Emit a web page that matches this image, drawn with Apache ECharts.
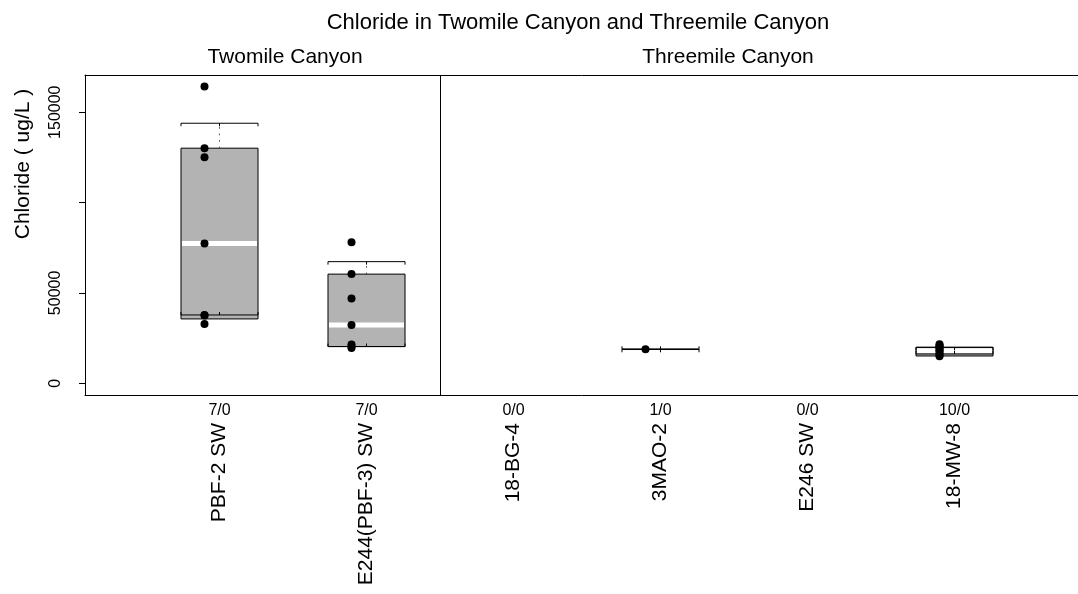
<!DOCTYPE html>
<html><head><meta charset="utf-8">
<script src="https://cdn.jsdelivr.net/npm/echarts@6/dist/echarts.min.js"></script>
<style>html,body{margin:0;padding:0;background:#fff}#c{width:1078px;height:594px}</style>
</head><body><div id="c"></div>
<script>
// ---- data ----
const categories = ['PBF-2 SW', 'E244(PBF-3) SW', '18-BG-4', '3MAO-2', 'E246 SW', '18-MW-8'];
const counts = ['7/0', '7/0', '0/0', '1/0', '0/0', '10/0'];
const whiskerLow  = [37800, 20300, null, 18800, null, 16200];
const boxLow      = [35600, 20300, null, 18800, null, 15100];
const medians     = [77300, 32300, null, 18800, null, 18000];
const boxHigh     = [130100, 60400, null, 18800, null, 19900];
const whiskerHigh = [143900, 67300, null, 18800, null, 19900];
const pointsPBF2  = [164200, 130100, 125100, 77300, 37800, 37500, 32800];
const pointsE244  = [78100, 60400, 46900, 32300, 21500, 20400, 19500];
const points18BG4 = [];
const points3MAO2 = [18800];
const pointsE246  = [];
const points18MW8 = [21600, 20900, 20400, 19800, 19100, 18300, 17600, 16500, 15700, 14900];
const yTicks  = [0, 50000, 100000, 150000];
const yLabels = [0, 50000, 150000];
const panelTitles = ['Twomile Canyon', 'Threemile Canyon'];
const mainTitle = 'Chloride in Twomile Canyon and Threemile Canyon';
const yTitle = 'Chloride ( ug/L )';

// ---- build ----
const FONT = '"Liberation Sans", Arial, Helvetica, sans-serif';
const pointsByCat = [pointsPBF2, pointsE244, points18BG4, points3MAO2, pointsE246, points18MW8];
const boxWidth = 0.524;
const pointOffset = -0.102;
const xMin = -0.915, xMax = 5.84;

const boxData = [];
categories.forEach((c, i) => {
  if (medians[i] !== null) boxData.push([i, whiskerLow[i], boxLow[i], medians[i], boxHigh[i], whiskerHigh[i]]);
});
const scatterData = [];
pointsByCat.forEach((arr, i) => arr.forEach(v => scatterData.push([i + pointOffset, v])));

function renderBox(params, api) {
  const x = api.value(0);
  const wl = api.value(1), q1 = api.value(2), med = api.value(3), q3 = api.value(4), wh = api.value(5);
  const cx = api.coord([x, med])[0];
  const hw = api.size([boxWidth, 0])[0] / 2;
  const y = v => api.coord([x, v])[1];
  const yq1 = y(q1), yq3 = y(q3), ym = y(med), ywl = y(wl), ywh = y(wh);
  const ch = [];
  ch.push({type: 'rect', shape: {x: cx - hw, y: yq3, width: 2 * hw, height: yq1 - yq3},
    style: {fill: '#b3b3b3', stroke: '#000', lineWidth: 1}});
  if (q3 !== q1) {
    ch.push({type: 'line', shape: {x1: cx - hw + 1, y1: ym, x2: cx + hw - 1, y2: ym},
      style: {stroke: '#fff', lineWidth: 5}});
  }
  if (wh > q3) {
    ch.push({type: 'line', shape: {x1: cx, y1: yq3, x2: cx, y2: ywh},
      style: {stroke: '#444', lineWidth: 1, lineDash: [1.5, 5]}});
  }
  if (wl < q1) {
    ch.push({type: 'line', shape: {x1: cx, y1: yq1, x2: cx, y2: ywl},
      style: {stroke: '#444', lineWidth: 1, lineDash: [1.5, 5]}});
  }
  const cap = (yy, dir) => {
    ch.push({type: 'line', shape: {x1: cx - hw, y1: yy, x2: cx + hw, y2: yy}, style: {stroke: '#000', lineWidth: 1}});
    [cx - hw, cx, cx + hw].forEach(xx => {
      ch.push({type: 'line', shape: {x1: xx, y1: yy, x2: xx, y2: yy + dir * 3}, style: {stroke: '#000', lineWidth: 1}});
    });
  };
  cap(ywh, 1);
  cap(ywl, -1);
  return {type: 'group', children: ch};
}

const chart = echarts.init(document.getElementById('c'), null, {renderer: 'canvas'});
chart.setOption({
  animation: false,
  backgroundColor: '#fff',
  grid: {left: 85, top: 75, right: 0, bottom: 199, show: false, containLabel: false},
  xAxis: [
    {type: 'value', min: xMin, max: xMax, position: 'bottom',
     axisLine: {show: true, onZero: false, lineStyle: {color: '#000'}}, axisTick: {show: false}, splitLine: {show: false},
     axisLabel: {customValues: [0, 1, 2, 3, 4, 5], formatter: v => counts[Math.round(v)],
       fontSize: 16, fontFamily: FONT, color: '#000', margin: 8}},
    {type: 'value', min: xMin, max: xMax, position: 'bottom',
     axisLine: {show: false, onZero: false}, axisTick: {show: false}, splitLine: {show: false},
     axisLabel: {customValues: [0, 1, 2, 3, 4, 5], formatter: v => categories[Math.round(v)], rotate: 90,
       fontSize: 21, fontFamily: FONT, color: '#000', margin: 28}},
    {type: 'value', min: xMin, max: xMax, position: 'top',
     axisLine: {show: true, onZero: false, lineStyle: {color: '#000'}}, axisTick: {show: false}, splitLine: {show: false},
     axisLabel: {show: false}}
  ],
  yAxis: {type: 'value', min: -6500, max: 170600,
    axisLine: {show: true, onZero: false, lineStyle: {color: '#000'}},
    axisTick: {show: true, customValues: yTicks, length: 6, lineStyle: {color: '#000'}},
    splitLine: {show: false},
    axisLabel: {customValues: yLabels, formatter: v => String(v), rotate: 90, fontSize: 16, fontFamily: FONT, color: '#000', margin: 21}},
  series: [
    {type: 'custom', xAxisIndex: 0, data: boxData, renderItem: renderBox, z: 2, silent: true},
    {type: 'scatter', xAxisIndex: 0, data: scatterData, symbolSize: 8, itemStyle: {color: '#000', opacity: 1}, z: 3, silent: true,
     markLine: {silent: true, symbol: ['none', 'none'], label: {show: false},
       lineStyle: {color: '#000', type: 'solid', width: 1}, data: [{xAxis: 1.5}]}}
  ],
  graphic: [
    {type: 'text', x: 578, y: 23, style: {text: mainTitle, fontSize: 22, fontFamily: FONT, fill: '#000', align: 'center', verticalAlign: 'middle'}},
    {type: 'text', x: 285, y: 57, style: {text: panelTitles[0], fontSize: 21, fontFamily: FONT, fill: '#000', align: 'center', verticalAlign: 'middle'}},
    {type: 'text', x: 728, y: 57, style: {text: panelTitles[1], fontSize: 21, fontFamily: FONT, fill: '#000', align: 'center', verticalAlign: 'middle'}},
    {type: 'text', x: 23, y: 164, rotation: Math.PI / 2, style: {text: yTitle, fontSize: 21, fontFamily: FONT, fill: '#000', align: 'center', verticalAlign: 'middle'}}
  ]
});
</script>
</body></html>
